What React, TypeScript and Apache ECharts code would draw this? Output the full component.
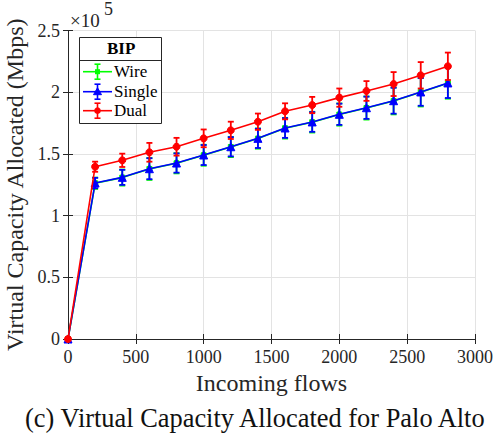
import React, { useEffect, useRef } from "react";
import * as echarts from "echarts";

const flows = [0, 200, 400, 600, 800, 1000, 1200, 1400, 1600, 1800, 2000, 2200, 2400, 2600, 2800];
const wire = [0, 126200, 130800, 137800, 142400, 148900, 155600, 162400, 170800, 175700, 181900, 187200, 192900, 200000, 207300];
const wireErr = [0, 4600, 6500, 8900, 8200, 8500, 8200, 8200, 8400, 8400, 9000, 9400, 10900, 11600, 12600];
const single = [0, 126400, 131000, 138000, 142600, 149100, 155800, 162600, 171000, 175900, 182100, 187400, 193100, 200200, 207500];
const singleErr = [0, 4200, 6100, 8500, 7800, 8100, 7800, 7800, 8000, 8000, 8600, 9000, 10500, 11200, 12200];
const dual = [0, 139600, 144800, 151300, 155800, 162600, 169100, 176100, 184500, 189600, 195600, 201000, 206600, 213700, 221000];
const dualErr = [0, 4100, 5400, 7600, 7200, 7200, 7000, 6600, 6500, 6600, 7400, 8000, 9700, 10700, 11100];
const seriesNames = ["Wire", "Single", "Dual"];
const xTicks = { min: 0, max: 3000, interval: 500 };
const yTicks = { min: 0, max: 250000, interval: 50000 };

const FONT = "Liberation Serif";
const AX = "#262626";

function errorSeries(name: string, vals: number[], errs: number[], color: string, z: number) {
  const data = flows
    .map((f, i) => [f, vals[i] - errs[i], vals[i] + errs[i]])
    .filter((d, i) => errs[i] > 0);
  return {
    type: "custom",
    name: name + " err",
    z,
    silent: true,
    data,
    encode: { x: 0, y: [1, 2] },
    renderItem: (params: any, api: any) => {
      const x = api.value(0);
      const lo = api.value(1);
      const hi = api.value(2);
      const p1 = api.coord([x, hi]);
      const p2 = api.coord([x, lo]);
      const w = 3;
      const st = { stroke: color, lineWidth: 1.8 };
      return {
        type: "group",
        children: [
          { type: "line", shape: { x1: p1[0], y1: p1[1], x2: p2[0], y2: p2[1] }, style: st },
          { type: "line", shape: { x1: p1[0] - w, y1: p1[1], x2: p1[0] + w, y2: p1[1] }, style: st },
          { type: "line", shape: { x1: p2[0] - w, y1: p2[1], x2: p2[0] + w, y2: p2[1] }, style: st },
        ],
      };
    },
  };
}

function lineSeries(name: string, vals: number[], color: string, symbol: string, size: number, z: number) {
  return {
    type: "line",
    name,
    z,
    data: flows.map((f, i) => [f, vals[i]]),
    symbol,
    symbolSize: size,
    showAllSymbol: true,
    lineStyle: { color, width: 1.6 },
    itemStyle: { color, borderColor: color, borderWidth: 1 },
  };
}

function legendItem(y: number, color: string, label: string, marker: any) {
  const cx = 97.5;
  const st = { stroke: color, lineWidth: 1.6 };
  return [
    { type: "line", shape: { x1: 83, y1: y, x2: 112, y2: y }, style: st, z: 101 },
    { type: "line", shape: { x1: cx, y1: y - 7.5, x2: cx, y2: y + 7.5 }, style: st, z: 101 },
    { type: "line", shape: { x1: cx - 3, y1: y - 7.5, x2: cx + 3, y2: y - 7.5 }, style: st, z: 101 },
    { type: "line", shape: { x1: cx - 3, y1: y + 7.5, x2: cx + 3, y2: y + 7.5 }, style: st, z: 101 },
    { ...marker, z: 102 },
    {
      type: "text",
      x: 114,
      y: y - 9,
      z: 101,
      style: { text: label, fontSize: 17, fontFamily: FONT, fill: "#000" },
    },
  ];
}

export default function App() {
  const ref = useRef<HTMLDivElement>(null);
  useEffect(() => {
    if (!ref.current) return;
    const chart = echarts.init(ref.current, null, { renderer: "svg" });
    const axisCommon = {
      axisLine: { show: true, lineStyle: { color: AX, width: 1 } },
      axisTick: { show: true, inside: true, length: 5, lineStyle: { color: AX } },
    };
    const option: any = {
      animation: false,
      backgroundColor: "#fff",
      grid: { left: 68, right: 21, top: 30.5, bottom: 98, show: false, containLabel: false, outerBoundsMode: "none" },
      xAxis: [
        {
          type: "value",
          ...xTicks,
          ...axisCommon,
          name: "Incoming flows",
          nameLocation: "middle",
          nameGap: 31,
          nameTextStyle: { fontSize: 24, color: "#262626", fontFamily: FONT },
          axisLabel: { fontSize: 18, color: "#262626", fontFamily: FONT, margin: 9, formatter: (v: number) => String(v) },
          splitLine: { show: true, lineStyle: { color: "#e3e3e3", width: 1 } },
        },
        {
          type: "value",
          position: "top",
          ...xTicks,
          ...axisCommon,
          axisLabel: { show: false },
          splitLine: { show: false },
        },
      ],
      yAxis: [
        {
          type: "value",
          ...yTicks,
          ...axisCommon,
          name: "Virtual Capacity Allocated (Mbps)",
          nameLocation: "middle",
          nameRotate: 90,
          nameGap: 26,
          nameTextStyle: { fontSize: 24, color: "#262626", fontFamily: FONT },
          axisLabel: {
            fontSize: 18,
            color: "#262626",
            fontFamily: FONT,
            margin: 8,
            formatter: (v: number) => String(v / 100000),
          },
          splitLine: { show: true, lineStyle: { color: "#e3e3e3", width: 1 } },
        },
        {
          type: "value",
          position: "right",
          ...yTicks,
          ...axisCommon,
          axisLabel: { show: false },
          splitLine: { show: false },
        },
      ],
      series: [
        lineSeries(seriesNames[0], wire, "#00ff00", "rect", 5, 2),
        errorSeries(seriesNames[0], wire, wireErr, "#00ff00", 3),
        lineSeries(seriesNames[1], single, "#0000ff", "triangle", 8, 4),
        errorSeries(seriesNames[1], single, singleErr, "#0000ff", 5),
        lineSeries(seriesNames[2], dual, "#ff0000", "circle", 7, 6),
        errorSeries(seriesNames[2], dual, dualErr, "#ff0000", 7),
      ],
      graphic: [
        {
          type: "text",
          x: 70,
          y: 10.5,
          style: { text: "×10", fontSize: 19, fontFamily: FONT, fill: "#262626" },
        },
        {
          type: "text",
          x: 104,
          y: 0,
          style: { text: "5", fontSize: 18, fontFamily: FONT, fill: "#262626" },
        },
        {
          type: "rect",
          shape: { x: 79.5, y: 37.5, width: 82, height: 86 },
          style: { fill: "#fff", stroke: AX, lineWidth: 1 },
          z: 100,
        },
        {
          type: "line",
          shape: { x1: 79.5, y1: 60.5, x2: 161.5, y2: 60.5 },
          style: { stroke: AX, lineWidth: 1 },
          z: 101,
        },
        {
          type: "text",
          x: 107,
          y: 40,
          z: 101,
          style: {
            text: "BIP",
            fontSize: 17,
            fontWeight: "bold",
            fontFamily: FONT,
            fill: "#000",
          },
        },
        ...legendItem(71.7, "#00ff00", seriesNames[0], {
          type: "rect",
          shape: { x: 95, y: 69.2, width: 5, height: 5 },
          style: { fill: "#00ff00" },
        }),
        ...legendItem(91.7, "#0000ff", seriesNames[1], {
          type: "polygon",
          shape: { points: [[97.5, 87.7], [101.5, 94.7], [93.5, 94.7]] },
          style: { fill: "#0000ff", stroke: "#0000ff" },
        }),
        ...legendItem(110.7, "#ff0000", seriesNames[2], {
          type: "circle",
          shape: { cx: 97.5, cy: 110.7, r: 3.3 },
          style: { fill: "#ff0000" },
        }),
        {
          type: "text",
          x: 25,
          y: 404.5,
          style: {
            text: "(c) Virtual Capacity Allocated for Palo Alto",
            fontSize: 26.4,
            fontFamily: FONT,
            fill: "#111",
          },
        },
      ],
    };
    chart.setOption(option);
    return () => chart.dispose();
  }, []);
  return (
    <div
      ref={ref}
      style={{ position: "fixed", left: 0, top: 0, width: 496, height: 437, background: "#fff" }}
    />
  );
}
